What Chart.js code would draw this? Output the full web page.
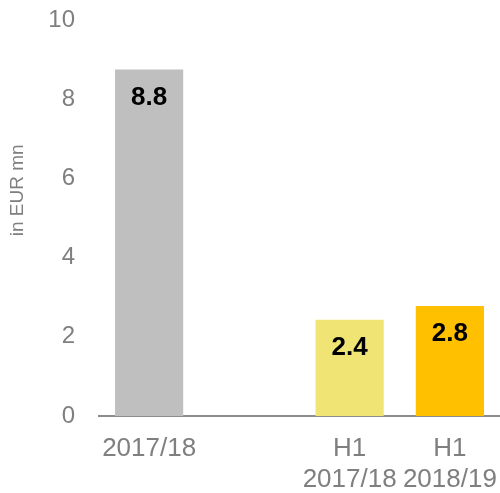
<!DOCTYPE html>
<html>
<head>
<meta charset="utf-8">
<script src="https://cdn.jsdelivr.net/npm/chart.js@4"></script>
<style>
  html, body { margin: 0; padding: 0; background: #fff; }
  #wrap { width: 500px; height: 493px; }
</style>
</head>
<body>
<div id="wrap"><canvas id="revenue-chart"></canvas></div>
<script>
// values
const categories = [['2017/18'], [''], ['H1', '2017/18'], ['H1', '2018/19']];
const values = [8.75, null, 2.43, 2.78];
const barColors = ['#BFBFBF', '#BFBFBF', '#F0E475', '#FFC000'];
const yTicks = [0, 2, 4, 6, 8, 10];
const yTitle = 'in EUR mn';

const FONT = "'Liberation Sans', Arial, sans-serif";
const GREY = '#7F7F7F';

// draws the value inside each bar, near its top
const barLabels = {
  id: 'barLabels',
  afterDatasetsDraw(chart) {
    const ctx = chart.ctx;
    const meta = chart.getDatasetMeta(0);
    ctx.save();
    ctx.font = 'bold 26px ' + FONT;
    ctx.fillStyle = '#000';
    ctx.textAlign = 'center';
    ctx.textBaseline = 'middle';
    meta.data.forEach((bar, i) => {
      if (values[i] == null) return;
      ctx.fillText(values[i].toFixed(1), bar.x, bar.y + 28);
    });
    ctx.restore();
  }
};

// y axis title, sitting a bit above the middle like in the original
const axisTitle = {
  id: 'axisTitle',
  afterDraw(chart) {
    const ctx = chart.ctx;
    const y = chart.scales.y;
    ctx.save();
    ctx.translate(18, y.getPixelForValue(5.7));
    ctx.rotate(-Math.PI / 2);
    ctx.font = '19px ' + FONT;
    ctx.fillStyle = GREY;
    ctx.textAlign = 'center';
    ctx.textBaseline = 'middle';
    ctx.fillText(yTitle, 0, 0);
    ctx.restore();
  }
};

new Chart(document.getElementById('revenue-chart'), {
  type: 'bar',
  data: {
    labels: categories,
    datasets: [{
      data: values,
      backgroundColor: barColors,
      borderWidth: 0,
      barPercentage: 0.68,
      categoryPercentage: 1
    }]
  },
  options: {
    responsive: true,
    maintainAspectRatio: false,
    animation: false,
    layout: { padding: { top: 20, right: 0, bottom: 0, left: 0 } },
    plugins: {
      legend: { display: false },
      tooltip: { enabled: false }
    },
    scales: {
      x: {
        afterFit(scale) {
          // keep the plot running right up to the edge
          scale.paddingLeft = 0;
          scale.paddingRight = 0;
          scale.height = 77;
        },
        grid: { display: false, drawTicks: false },
        border: { display: true, color: '#8C8C8C', width: 2 },
        ticks: {
          color: GREY,
          font: { family: FONT, size: 26, lineHeight: 1.2 },
          padding: 17,
          maxRotation: 0,
          autoSkip: false
        }
      },
      y: {
        min: 0,
        max: 10,
        afterBuildTicks(scale) {
          scale.ticks = yTicks.map(v => ({ value: v }));
        },
        afterFit(scale) {
          scale.width = 99;
          scale.paddingTop = 0;
          scale.paddingBottom = 0;
        },
        grid: { display: false, drawTicks: false },
        border: { display: false },
        ticks: {
          color: GREY,
          font: { family: FONT, size: 24 },
          padding: 24
        }
      }
    }
  },
  plugins: [barLabels, axisTitle]
});
</script>
</body>
</html>
